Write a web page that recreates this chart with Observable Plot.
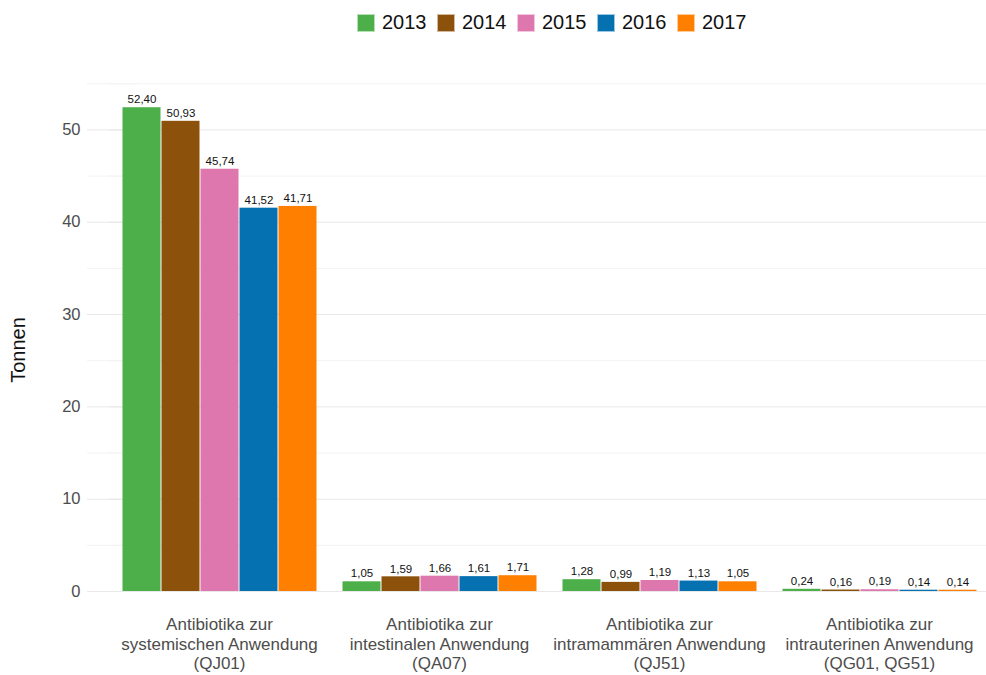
<!DOCTYPE html>
<html>
<head>
<meta charset="utf-8">
<script src="https://cdn.jsdelivr.net/npm/d3@7"></script>
<script src="https://cdn.jsdelivr.net/npm/@observablehq/plot@0.6"></script>
<style>
  body { margin: 0; background: #fff; }
  #wrap { position: relative; width: 986px; height: 675px; font-family: "Helvetica Neue", Helvetica, "Liberation Sans", Arial, sans-serif; background: #fff; overflow: hidden; }
  #legend { position: absolute; top: 11px; left: 357px; display: flex; align-items: center; font-size: 20px; color: #111; }
  .item { display: flex; align-items: center; width: 80px; }
  .sw { width: 18px; height: 18px; margin-right: 7px; box-sizing: border-box; border: 1px solid rgba(255,255,255,0.6); }
  #ylab { position: absolute; left: 18px; top: 350px; transform: translate(-50%, -50%) rotate(-90deg); font-size: 20px; color: #111; white-space: nowrap; }
  #chart { position: absolute; top: 50px; left: 0; }
</style>
</head>
<body>
<div id="wrap">
  <div id="legend"></div>
  <div id="ylab">Tonnen</div>
  <div id="chart"></div>
</div>
<script>
const categories = [
  "Antibiotika zur\nsystemischen Anwendung\n(QJ01)",
  "Antibiotika zur\nintestinalen Anwendung\n(QA07)",
  "Antibiotika zur\nintramammären Anwendung\n(QJ51)",
  "Antibiotika zur\nintrauterinen Anwendung\n(QG01, QG51)"
];
const years = ["2013", "2014", "2015", "2016", "2017"];
const values2013 = [52.40, 1.05, 1.28, 0.24];
const values2014 = [50.93, 1.59, 0.99, 0.16];
const values2015 = [45.74, 1.66, 1.19, 0.19];
const values2016 = [41.52, 1.61, 1.13, 0.14];
const values2017 = [41.71, 1.71, 1.05, 0.14];
const colors = ["#4daf4a", "#8c510a", "#de77ae", "#0571b0", "#ff7f00"];
const yTicks = [0, 10, 20, 30, 40, 50];
const yMinor = [5, 15, 25, 35, 45, 55];

const series = [values2013, values2014, values2015, values2016, values2017];
const data = [];
years.forEach((yr, i) => categories.forEach((c, j) => data.push({cat: c, year: yr, value: series[i][j]})));
const fmt = v => v.toFixed(2).replace(".", ",");

const legend = document.getElementById("legend");
years.forEach((yr, i) => {
  const it = document.createElement("div");
  it.className = "item";
  const sw = document.createElement("div");
  sw.className = "sw";
  sw.style.background = colors[i];
  const t = document.createElement("span");
  t.textContent = yr;
  it.appendChild(sw); it.appendChild(t);
  legend.appendChild(it);
});

const chart = Plot.plot({
  width: 986,
  height: 625,
  marginLeft: 109,
  marginRight: -3,
  marginTop: 24,
  marginBottom: 84,
  style: {fontFamily: '"Helvetica Neue", Helvetica, "Liberation Sans", Arial, sans-serif', background: "transparent"},
  fx: {domain: categories, paddingInner: 0.1, paddingOuter: 0.05, label: null},
  x: {domain: years, padding: 0, axis: null},
  y: {domain: [0, 56], axis: null},
  color: {domain: years, range: colors},
  marks: [
    Plot.ruleY(yMinor, {stroke: "#f3f3f3", insetLeft: -11, insetRight: -11}),
    Plot.ruleY(yTicks, {stroke: "#e8e8e8", insetLeft: -11, insetRight: -11}),
    Plot.ruleY(yMinor, {y: d => d, fx: () => categories[0], stroke: "#f3f3f3", insetLeft: -33, insetRight: 180}),
    Plot.ruleY(yTicks, {y: d => d, fx: () => categories[0], stroke: "#e8e8e8", insetLeft: -33, insetRight: 180}),
    Plot.barY(data, {fx: "cat", x: "year", y: "value", fill: "year", insetLeft: 0.5, insetRight: 0.5}),
    Plot.text(data, {fx: "cat", x: "year", y: "value", text: d => fmt(d.value), dy: -8, fontSize: 11.5, fill: "#111"}),
    Plot.axisY(yTicks, {tickSize: 0, tickPadding: 40, fontSize: 16.5, color: "#4d4d4d", label: null}),
    Plot.axisFx({anchor: "bottom", tickSize: 0, tickPadding: 25, fontSize: 17, lineHeight: 1.15, color: "#4d4d4d", label: null})
  ]
});
document.getElementById("chart").appendChild(chart);
</script>
</body>
</html>
